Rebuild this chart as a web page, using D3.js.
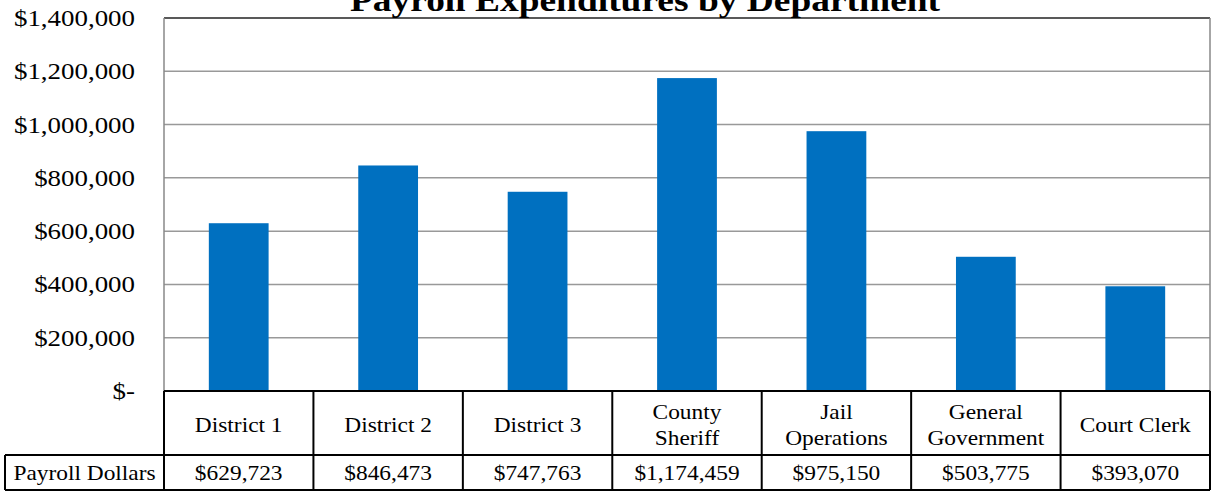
<!DOCTYPE html>
<html><head><meta charset="utf-8">
<script src="https://cdn.jsdelivr.net/npm/d3@7"></script>
<style>body{margin:0;background:#fff}svg{display:block}</style>
</head><body>
<svg id="c" width="1211" height="493"></svg>
<script>
const categories = [["District 1"],["District 2"],["District 3"],["County","Sheriff"],["Jail","Operations"],["General","Government"],["Court Clerk"]];
const values = [629723, 846473, 747763, 1174459, 975150, 503775, 393070];
const valueLabels = ["$629,723","$846,473","$747,763","$1,174,459","$975,150","$503,775","$393,070"];
const yTicks = [0,200000,400000,600000,800000,1000000,1200000,1400000];
const seriesName = "Payroll Dollars";
const title = "Payroll Expenditures by Department";

const svg = d3.select("#c");
const font = "'Liberation Serif','Times New Roman',serif";
const sx = 1.17;
const pL = 164, pR = 1210, pT = 18, pB = 391;
const x = d3.scaleBand().domain(d3.range(values.length)).range([pL, pR]).paddingInner(0).paddingOuter(0);
const y = d3.scaleLinear().domain([0, 1400000]).range([pB, pT]);

function T(g, tx, ty, txt, size, anchor, weight) {
  return g.append("text")
    .attr("transform", `translate(${tx},${ty}) scale(${sx},1)`)
    .attr("text-anchor", anchor || "middle")
    .attr("font-family", font).attr("font-size", size)
    .attr("font-weight", weight || "normal").attr("fill", "#000")
    .text(txt);
}

// gridlines
svg.append("g").selectAll("line").data(yTicks.slice(1)).join("line")
  .attr("x1", pL).attr("x2", pR).attr("y1", d => y(d)).attr("y2", d => y(d))
  .attr("stroke", d => d === 1400000 ? "#595959" : "#999").attr("stroke-width", d => d===1400000?2:1.5);
svg.append("line").attr("x1", pL).attr("x2", pL).attr("y1", pT).attr("y2", pB).attr("stroke", "#888").attr("stroke-width", 1.5);
svg.append("line").attr("x1", pR).attr("x2", pR).attr("y1", pT).attr("y2", pB).attr("stroke", "#888").attr("stroke-width", 1.5);

// bars
const bw = x.bandwidth() * 0.4;
svg.append("g").selectAll("rect").data(values).join("rect")
  .attr("x", (d,i) => x(i) + (x.bandwidth()-bw)/2)
  .attr("width", bw)
  .attr("y", d => y(d)).attr("height", d => pB - y(d))
  .attr("fill", "#0070C0");

// y tick labels
const fmt = d => d === 0 ? "$-" : "$" + d3.format(",")(d);
const yg = svg.append("g");
yTicks.forEach(d => T(yg, 135, y(d) + 8, fmt(d), 23, "end"));

// title
T(svg, 645, 11, title, 32, "middle", "bold");

// data table
const rowTop = 391, rowMid = 455, rowBot = 490, tLeft = 5;
const tg = svg.append("g");
categories.forEach((lines, i) => {
  const cx = x(i) + x.bandwidth()/2;
  const n = lines.length;
  const cy = (rowTop + rowMid)/2;
  lines.forEach((t, j) => T(tg, cx, cy + 9 + (j - (n-1)/2) * 26, t, 20));
  T(tg, cx, (rowMid + rowBot)/2 + 7, valueLabels[i], 20);
});
T(tg, (tLeft + pL)/2, (rowMid + rowBot)/2 + 7, seriesName, 20);

function L(x1,y1,x2,y2){ tg.append("line").attr("x1",x1).attr("y1",y1).attr("x2",x2).attr("y2",y2).attr("stroke","#000").attr("stroke-width",2); }
L(pL, rowTop, pR, rowTop);
L(tLeft, rowMid, pR, rowMid);
L(tLeft, rowBot, pR, rowBot);
L(tLeft, rowMid, tLeft, rowBot);
d3.range(values.length + 1).forEach(i => {
  const xx = i === values.length ? pR : x(i);
  L(xx, rowTop, xx, rowBot);
});
</script>
</body></html>
